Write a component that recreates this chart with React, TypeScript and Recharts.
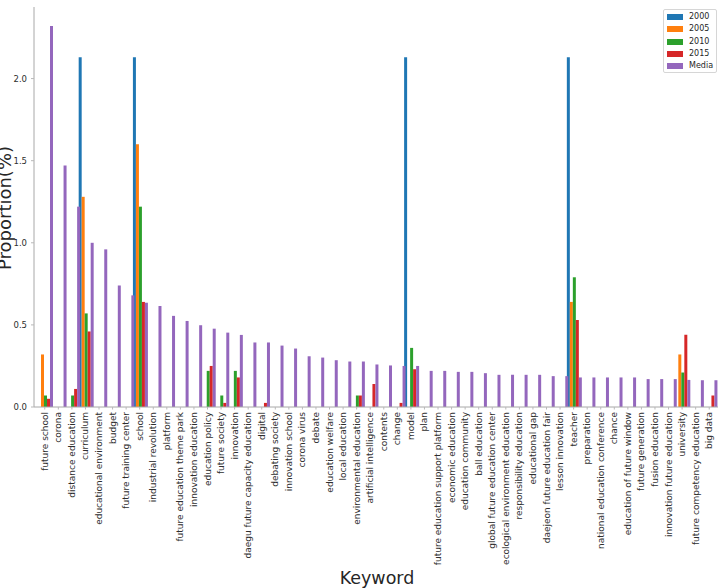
import React from 'react';
import { BarChart, Bar, XAxis, YAxis, Legend } from 'recharts';

const categories = [
  'future school', 'corona', 'distance education', 'curriculum', 'educational environment',
  'budget', 'future training center', 'school', 'industrial revolution', 'platform',
  'future education theme park', 'innovation education', 'education policy', 'future society', 'innovation',
  'daegu future capacity education', 'digital', 'debating society', 'innovation school', 'corona virus',
  'debate', 'education welfare', 'local education', 'environmental education', 'artificial intelligence',
  'contents', 'change', 'model', 'plan', 'future education support platform',
  'economic education', 'education community', 'ball education', 'global future education center', 'ecological environment education',
  'responsibility education', 'educational gap', 'daejeon future education fair', 'lesson innovation', 'teacher',
  'preparation', 'national education conference', 'chance', 'education of future window', 'future generation',
  'fusion education', 'innovation future education', 'university', 'future competency education', 'big data',
];

const values2000 = [
  0, 0, 0, 2.13, 0, 0, 0, 2.13, 0, 0,
  0, 0, 0, 0, 0, 0, 0, 0, 0, 0,
  0, 0, 0, 0, 0, 0, 0, 2.13, 0, 0,
  0, 0, 0, 0, 0, 0, 0, 0, 0, 2.13,
  0, 0, 0, 0, 0, 0, 0, 0, 0, 0,
];

const values2005 = [
  0.32, 0, 0, 1.28, 0, 0, 0, 1.6, 0, 0,
  0, 0, 0, 0, 0, 0, 0, 0, 0, 0,
  0, 0, 0, 0, 0, 0, 0, 0, 0, 0,
  0, 0, 0, 0, 0, 0, 0, 0, 0, 0.64,
  0, 0, 0, 0, 0, 0, 0, 0.32, 0, 0,
];

const values2010 = [
  0.07, 0, 0.07, 0.57, 0, 0, 0, 1.22, 0, 0,
  0, 0, 0.22, 0.07, 0.22, 0, 0, 0, 0, 0,
  0, 0, 0, 0.07, 0, 0, 0, 0.36, 0, 0,
  0, 0, 0, 0, 0, 0, 0, 0, 0, 0.79,
  0, 0, 0, 0, 0, 0, 0, 0.21, 0, 0,
];

const values2015 = [
  0.05, 0, 0.11, 0.46, 0, 0, 0, 0.64, 0, 0,
  0, 0, 0.25, 0.025, 0.18, 0, 0.025, 0, 0, 0,
  0, 0, 0, 0.07, 0.14, 0, 0.025, 0.23, 0, 0,
  0, 0, 0, 0, 0, 0, 0, 0, 0, 0.53,
  0, 0, 0, 0, 0, 0, 0, 0.44, 0, 0.07,
];

const valuesMedia = [
  2.32, 1.47, 1.22, 1.0, 0.96, 0.74, 0.68, 0.635, 0.615, 0.555,
  0.524, 0.498, 0.477, 0.453, 0.439, 0.393, 0.393, 0.374, 0.356, 0.309,
  0.301, 0.285, 0.277, 0.277, 0.259, 0.253, 0.25, 0.25, 0.22, 0.22,
  0.214, 0.214, 0.206, 0.196, 0.196, 0.196, 0.196, 0.188, 0.188, 0.18,
  0.18, 0.18, 0.18, 0.18, 0.17, 0.17, 0.17, 0.165, 0.163, 0.163,
];

const seriesNames = ['2000', '2005', '2010', '2015', 'Media'];
const seriesColors = ['#1f77b4', '#ff7f0e', '#2ca02c', '#d62728', '#9467bd'];
const seriesValues = [values2000, values2005, values2010, values2015, valuesMedia];
const yTicks = [0, 0.5, 1.0, 1.5, 2.0];
const yMax = 2.436;

const data = categories.map((keyword, i) => {
  const row: Record<string, string | number> = { keyword };
  seriesNames.forEach((name, s) => {
    row[name] = seriesValues[s][i];
  });
  return row;
});

const FONT = 'DejaVu Sans, sans-serif';

const XTick = (props: any) => {
  const { x, y, payload } = props;
  return (
    <text
      x={x}
      y={y}
      transform={`rotate(-90, ${x}, ${y})`}
      textAnchor="end"
      dominantBaseline="central"
      fontSize={9}
      fill="#2e2e2e"
      fontFamily={FONT}
    >
      {payload.value}
    </text>
  );
};

const LegendBox = () => (
  <div
    style={{
      width: 54,
      height: 64,
      boxSizing: 'border-box',
      border: '1px solid #d6d6d6',
      borderRadius: 2,
      background: '#fff',
      paddingTop: 1,
      fontFamily: FONT,
    }}
  >
    {seriesNames.map((name, i) => (
      <div key={name} style={{ height: 12.25, display: 'flex', alignItems: 'center' }}>
        <div style={{ width: 16, height: 6, background: seriesColors[i], marginLeft: 3 }} />
        <span style={{ fontSize: 8, color: '#262626', marginLeft: 6, lineHeight: '12px' }}>{name}</span>
      </div>
    ))}
  </div>
);

export default function App() {
  return (
    <div style={{ position: 'absolute', left: 0, top: 0, width: 722, height: 588, background: '#fff' }}>
      <BarChart
        width={722}
        height={588}
        data={data}
        margin={{ top: 7, right: 4, bottom: 0, left: 0 }}
        barCategoryGap={0}
        barGap={0}
      >
        <XAxis
          dataKey="keyword"
          height={181}
          interval={0}
          padding={{ left: 4, right: 2 }}
          axisLine={{ stroke: '#a8a8a8' }}
          tickLine={{ stroke: '#b8b8b8' }}
          tickSize={2.5}
          tickMargin={2.5}
          tick={<XTick />}
          label={{
            content: () => (
              <text x={377} y={584} textAnchor="middle" fontSize={17.5} fill="#262626" fontFamily={FONT}>
                Keyword
              </text>
            ),
          }}
        />
        <XAxis
          xAxisId="top"
          orientation="top"
          dataKey="keyword"
          height={0}
          tick={false}
          tickLine={false}
          axisLine={{ stroke: '#a8a8a8' }}
        />
        <YAxis
          width={34}
          domain={[0, yMax]}
          ticks={yTicks}
          type="number"
          allowDataOverflow
          tickFormatter={(v: number) => v.toFixed(1)}
          tick={{ fontSize: 8.5, fill: '#2e2e2e', fontFamily: FONT }}
          axisLine={{ stroke: '#a8a8a8' }}
          tickLine={{ stroke: '#b8b8b8' }}
          tickSize={3}
          tickMargin={4}
          label={{
            content: () => (
              <text
                x={10.5}
                y={208}
                transform="rotate(-90, 10.5, 208)"
                textAnchor="middle"
                fontSize={18}
                fill="#262626"
                fontFamily={FONT}
              >
                Proportion(%)
              </text>
            ),
          }}
        />
        <YAxis
          yAxisId="right"
          orientation="right"
          width={0}
          type="number"
          domain={[0, 1]}
          tick={false}
          tickLine={false}
          axisLine={{ stroke: '#a8a8a8' }}
        />
        <Legend
          layout="vertical"
          align="center"
          verticalAlign="middle"
          wrapperStyle={{ position: 'absolute', left: 663, top: 9, width: 54, height: 64 }}
          content={() => <LegendBox />}
        />
        {seriesNames.map((name, i) => (
          <Bar key={name} dataKey={name} fill={seriesColors[i]} isAnimationActive={false} />
        ))}
      </BarChart>
    </div>
  );
}
